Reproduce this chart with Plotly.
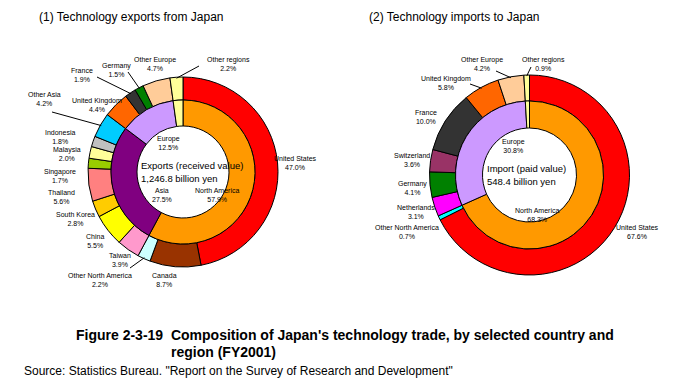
import math
import plotly.graph_objects as go

W, H = 685, 387

# ---------------- data ----------------
exp_countries = ["United States", "Canada", "Other North America", "Taiwan", "China",
                 "South Korea", "Thailand", "Singapore", "Malaysia", "Indonesia",
                 "Other Asia", "United Kingdom", "France", "Germany", "Other Europe",
                 "Other regions"]
exp_country_share = [47.0, 8.7, 2.2, 3.9, 5.5, 2.8, 5.6, 1.7, 2.0, 1.8, 4.2, 4.4, 1.9, 1.5, 4.7, 2.2]
exp_regions = ["North America", "Asia", "Europe", "Other regions"]
exp_region_share = [57.9, 27.5, 12.5, 2.2]
exp_center = ["Exports (received value)", "1,246.8 billion yen"]

imp_countries = ["United States", "Other North America", "Netherlands", "Germany",
                 "Switzerland", "France", "United Kingdom", "Other Europe", "Other regions"]
imp_country_share = [67.6, 0.7, 3.1, 4.1, 3.6, 10.0, 5.8, 4.2, 0.9]
imp_regions = ["North America", "Europe", "Other regions"]
imp_region_share = [68.3, 30.8, 0.9]
imp_center = ["Import (paid value)", "548.4 billion yen"]

titles = ["(1) Technology exports from Japan", "(2) Technology imports to Japan"]
caption1 = "Figure 2-3-19  Composition of Japan's technology trade, by selected country and"
caption2 = "region (FY2001)"
source = 'Source: Statistics Bureau. "Report on the Survey of Research and Development"'

# ---------------- styles ----------------
exp_country_colors = ["#FF0000", "#993300", "#CCFFFF", "#FF99CC", "#FFFF00", "#FFCC00",
                      "#FF8080", "#99CC00", "#FFFF99", "#C0C0C0", "#00CCFF", "#FF6600",
                      "#333333", "#008000", "#FFCC99", "#FFFF99"]
exp_region_colors = ["#FF9900", "#800080", "#CC99FF", "#FFFF99"]
imp_country_colors = ["#FF0000", "#00FFFF", "#FF00FF", "#008000", "#993366", "#333333",
                      "#FF6600", "#FFCC99", "#FFFF99"]
imp_region_colors = ["#FF9900", "#CC99FF", "#FFFF99"]

FONT = "Liberation Sans, Arial, sans-serif"

# geometry (pixels)
L = dict(cx=183, cy=172, r_out=95, r_mid=72, r_hole=46)
R = dict(cx=529.5, cy=175, r_out=100, r_mid=74, r_hole=47)

# label centres (pixels) for the outer ring and inner ring
exp_label_pos = {
    "United States": (295, 163), "Canada": (164, 280), "Other North America": (100, 280),
    "Taiwan": (120, 260), "China": (95, 241), "South Korea": (75, 219),
    "Thailand": (61, 197), "Singapore": (60, 176), "Malaysia": (67, 154),
    "Indonesia": (60, 137), "Other Asia": (44, 99), "United Kingdom": (97, 105),
    "France": (82, 75), "Germany": (116, 70), "Other Europe": (155, 64),
    "Other regions": (228, 64),
}
exp_leader_start = {"Other regions": (199, 66), "Germany": (128, 72), "France": (97, 77),
                    "Other Asia": (52, 112), "Other North America": (130, 268)}
exp_region_pos = {"Europe": (168, 143), "Asia": (162, 195), "North America": (217, 195)}

imp_label_pos = {
    "United States": (637, 232), "Other North America": (407, 232), "Netherlands": (416, 212),
    "Germany": (413, 188), "Switzerland": (412, 160), "France": (426, 117),
    "United Kingdom": (446, 83), "Other Europe": (482, 64), "Other regions": (543, 64),
}
imp_leader_start = {"Other Europe": (496, 71), "Other regions": (531, 67),
                    "United Kingdom": (470, 84)}
imp_region_pos = {"Europe": (513, 146), "North America": (537, 215)}

fig = go.Figure()


def px_to_paper(x, y):
    return x / W, 1 - y / H


def add_pie(values, labels, colors, g, r, hole):
    cx, cy = g["cx"], g["cy"]
    fig.add_trace(go.Pie(
        values=values, labels=labels, sort=False, direction="clockwise", rotation=0,
        hole=hole, textinfo="none", hoverinfo="label+percent", showlegend=False,
        marker=dict(colors=colors, line=dict(color="black", width=1)),
        domain=dict(x=[(cx - r) / W, (cx + r) / W], y=[(H - cy - r) / H, (H - cy + r) / H]),
    ))


def mid_point(values, i, g, r):
    cum = sum(values[:i]) + values[i] / 2.0
    ang = math.radians(360.0 * cum / sum(values))
    return g["cx"] + r * math.sin(ang), g["cy"] - r * math.cos(ang)


annotations = []
shapes = []


def ann(text, x, y, size, xanchor="center", color="black"):
    px, py = px_to_paper(x, y)
    annotations.append(dict(text=text, x=px, y=py, xref="paper", yref="paper",
                            xanchor=xanchor, yanchor="middle", showarrow=False,
                            align="center" if xanchor == "center" else "left",
                            font=dict(family=FONT, size=size, color=color)))


def build(countries, cshare, ccolors, regions, rshare, rcolors, g, lpos, lstart, rpos, center):
    add_pie(cshare, countries, ccolors, g, g["r_out"], g["r_mid"] / g["r_out"])
    add_pie(rshare, regions, rcolors, g, g["r_mid"], g["r_hole"] / g["r_mid"])
    for i, name in enumerate(countries):
        x, y = lpos[name]
        ann(f"{name}<br>{cshare[i]:.1f}%", x, y, 7)
        if name in lstart:
            sx, sy = lstart[name]
            ex, ey = mid_point(cshare, i, g, g["r_out"] - 1)
            x0, y0 = px_to_paper(sx, sy)
            x1, y1 = px_to_paper(ex, ey)
            shapes.append(dict(type="line", xref="paper", yref="paper", x0=x0, y0=y0,
                               x1=x1, y1=y1, line=dict(color="black", width=1)))
    for i, name in enumerate(regions):
        if name in rpos:
            x, y = rpos[name]
            ann(f"{name}<br>{rshare[i]:.1f}%", x, y, 7)
    ann(center[0], g["cx"] - g["r_hole"] + 2, g["cy"] - 7, 9.5, xanchor="left")
    ann(center[1], g["cx"] - g["r_hole"] + 2, g["cy"] + 6, 9.5, xanchor="left")


build(exp_countries, exp_country_share, exp_country_colors, exp_regions, exp_region_share,
      exp_region_colors, L, exp_label_pos, exp_leader_start, exp_region_pos, exp_center)
build(imp_countries, imp_country_share, imp_country_colors, imp_regions, imp_region_share,
      imp_region_colors, R, imp_label_pos, imp_leader_start, imp_region_pos, imp_center)

ann(titles[0], 37, 17, 12, xanchor="left")
ann(titles[1], 367, 17, 12, xanchor="left")
ann(f"<b>{caption1}</b>", 74, 335, 14, xanchor="left")
ann(f"<b>{caption2}</b>", 169, 352, 14, xanchor="left")
ann(source, 22, 371, 12, xanchor="left")

fig.update_layout(width=W, height=H, margin=dict(l=0, r=0, t=0, b=0),
                  paper_bgcolor="white", plot_bgcolor="white",
                  annotations=annotations, shapes=shapes,
                  font=dict(family=FONT))

fig.write_html("out.html", config={"displayModeBar": False},
               post_script="document.body.style.margin='0px';document.body.style.overflow='hidden';")
